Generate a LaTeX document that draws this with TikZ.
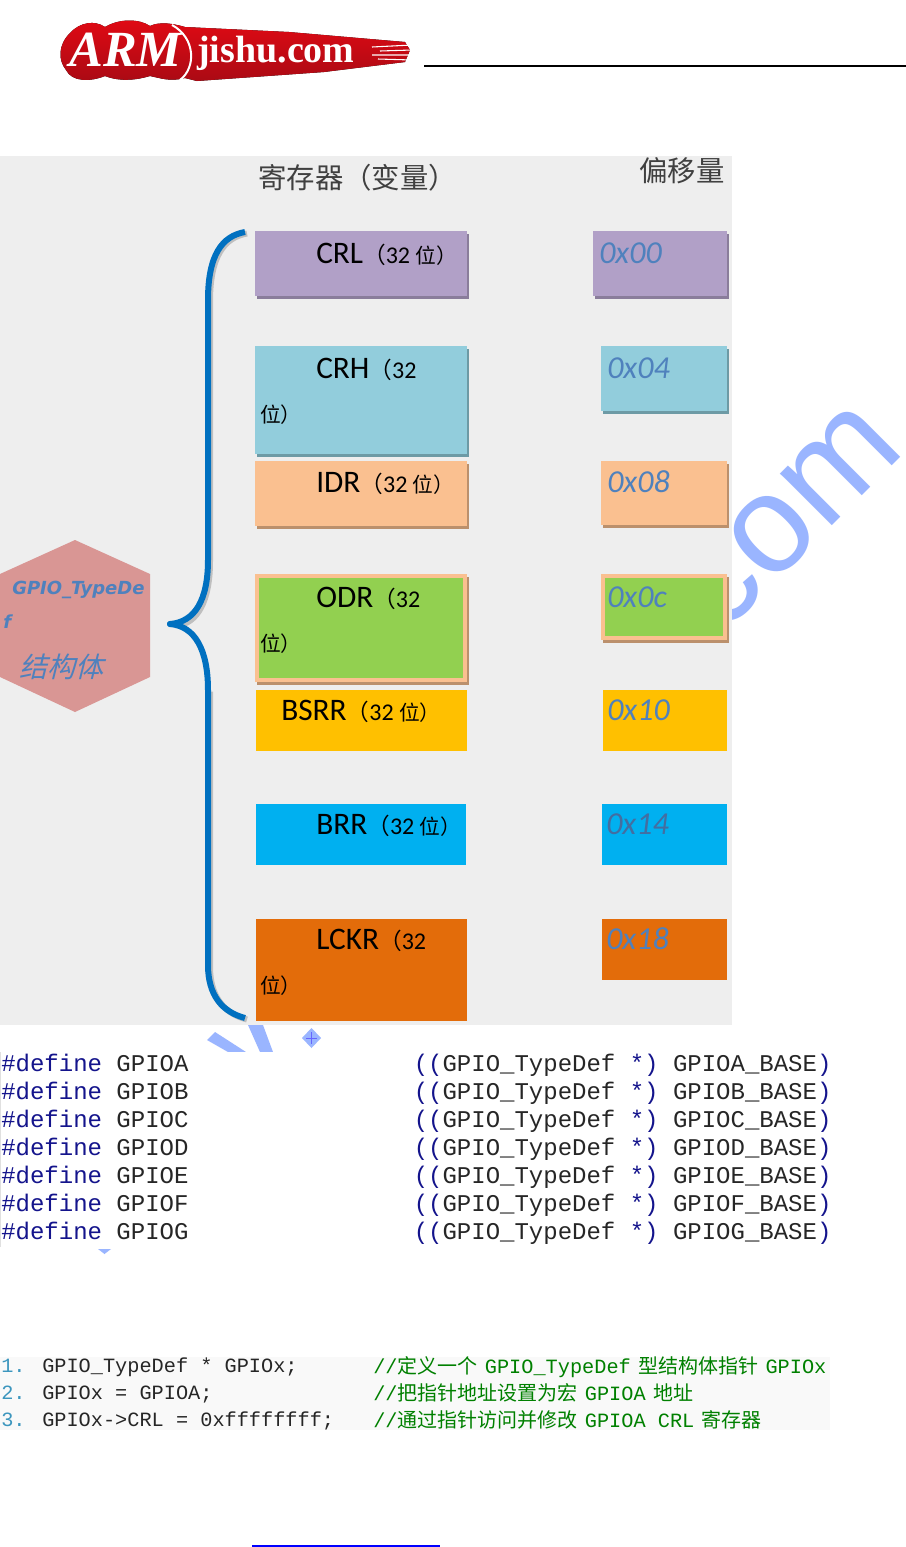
\documentclass[tikz,border=0pt]{standalone}
\usepackage{fontspec}
\usepackage{xcolor}
\setmainfont{Carlito}
\setmonofont{Liberation Mono}
\newfontfamily\cjk{Noto Sans CJK SC}
\newfontfamily\cjkslant[FakeSlant=0.25]{Noto Sans CJK SC}
\newfontfamily\wmfont{Liberation Sans}
\newfontfamily\hexfont{DejaVu Sans}
\newfontfamily\logofont{Liberation Serif}
\definecolor{panelgrey}{RGB}{238, 238, 238}
\definecolor{crlpurple}{RGB}{177, 160, 199}
\definecolor{crhblue}{RGB}{146, 205, 220}
\definecolor{idrpeach}{RGB}{250, 192, 144}
\definecolor{odrgreen}{RGB}{146, 208, 80}
\definecolor{bsrryellow}{RGB}{255, 192, 0}
\definecolor{brrcyan}{RGB}{0, 176, 240}
\definecolor{lckrorange}{RGB}{227, 108, 10}
\definecolor{hexrose}{RGB}{217, 150, 148}
\definecolor{offsetblue}{RGB}{79, 129, 189}
\definecolor{braceblue}{RGB}{0, 112, 192}
\definecolor{markblue}{RGB}{154, 181, 255}
\definecolor{keywordblue}{RGB}{20, 20, 140}
\definecolor{numberteal}{RGB}{60, 150, 190}
\definecolor{commentgreen}{RGB}{0, 128, 0}
\definecolor{codegrey}{RGB}{249, 249, 249}
\definecolor{logored}{RGB}{225, 10, 20}
\definecolor{logodark}{RGB}{170, 10, 20}
\newcommand{\bits}[1]{{\fontsize{17}{20}\selectfont\cjk （}{\fontsize{18}{20}\selectfont #1}}
\newcommand{\wei}{{\fontsize{15.5}{20}\selectfont\cjk 位）}}
\newcommand{\zh}[1]{{\cjk\fontsize{15}{18}\selectfont #1}}
\newcommand{\gap}{\hspace{5.5pt}}
\usepackage{tikz}
\usetikzlibrary{positioning, calc, shadows}
\tikzset{
    regbox/.style={rectangle, anchor=north west, inner sep=0pt, outer sep=0pt},
    shadowed/.style={general shadow={fill=#1, shadow xshift=1.5pt, shadow yshift=-2.2pt}},
    framed/.style={fill=odrgreen, draw=idrpeach, line width=3pt, general shadow={fill=#1, draw=#1, line width=3pt, shadow xshift=1.5pt, shadow yshift=-2.2pt}},
    regname/.style={anchor=base west, inner sep=0pt, font=\fontsize{23.5}{28}\selectfont},
    sidetext/.style={anchor=base west, inner sep=0pt},
    offsettext/.style={anchor=base west, inner sep=0pt, text=offsetblue, font=\fontsize{24}{28}\selectfont\itshape},
    titletext/.style={anchor=base west, inner sep=0pt, text=black!75, font=\fontsize{21.3}{24}\selectfont\cjk},
    definetext/.style={anchor=base west, inner sep=0pt, font=\fontsize{18}{20}\selectfont\ttfamily, text=black!85},
    codetext/.style={anchor=base west, inner sep=0pt, font=\fontsize{15.2}{18}\selectfont\ttfamily, text=black!85},
    commenttext/.style={anchor=base west, inner sep=0pt, font=\fontsize{15.2}{18}\selectfont\ttfamily, text=commentgreen},
}
\begin{document}
\begin{tikzpicture}[x=0.75pt, y=-0.75pt]
    \useasboundingbox (0,0) rectangle (906,1547);
    \fill[white] (0,0) rectangle (906,1547);

    \node[anchor=base east, inner sep=0pt, rotate=45, text=markblue, font=\fontsize{104}{110}\selectfont\wmfont] (markcom) at (907,451) {com};
    \fill[markblue] (215,1032) -- (207,1040) -- (228,1052) -- (246,1052) -- cycle;
    \fill[markblue] (248,1025) -- (263,1025) -- (273,1052) -- (260,1052) -- cycle;

    \fill[top color=logored, bottom color=logodark] (70,33) .. controls (80,22) and (95,20) .. (105,27) .. controls (120,18) and (140,19) .. (150,26) .. controls (160,21) and (175,24) .. (185,27) -- (289,32) -- (370,39) -- (405,42) -- (410,50) -- (405,62) -- (324,72) -- (197,81) -- (185,78) .. controls (170,82) and (160,78) .. (150,76) .. controls (130,82) and (115,80) .. (105,76) .. controls (90,82) and (72,82) .. (66,70) .. controls (58,60) and (58,45) .. (70,33) -- cycle;
    \draw[white, line width=0.8pt] (372,47) -- (412,45) (380,51) -- (412,50) (372,55) -- (412,55) (378,59) -- (412,60);
    \draw[white, line width=1.5pt] (172,25) .. controls (196,38) and (196,68) .. (180,80);
    \node[anchor=base west, inner sep=0pt, text=white, font=\fontsize{38}{40}\selectfont\logofont\bfseries\itshape] (logoarm) at (69,66) {ARM};
    \node[anchor=base west, inner sep=0pt, text=white, font=\fontsize{28.5}{30}\selectfont\logofont\bfseries] (logosite) at (197,62) {jishu.com};
    \coordinate (rulestart) at (424,66);
    \coordinate (ruleend) at (906,66);
    \draw[black, line width=1.5pt] (rulestart) -- (ruleend);

    \fill[panelgrey] (0,156) rectangle (732,1025);
    \node[titletext] (regtitle) at (258,188) {寄存器（变量）};
    \node[titletext] (offtitle) at (639,181) {偏移量};

    \node[regbox, fill=crlpurple, shadowed=black!22!crlpurple, minimum width=159pt, minimum height=48.75pt] (crl) at (255,231) {};
    \node[regbox, fill=crhblue, shadowed=black!25!crhblue, minimum width=159pt, minimum height=81pt] (crh) at (255,346) {};
    \node[regbox, fill=idrpeach, shadowed=black!25!idrpeach, minimum width=159pt, minimum height=48.75pt] (idr) at (255,461) {};
    \node[regbox, framed=black!25!idrpeach, minimum width=156pt, minimum height=78pt] (odr) at (257,576) {};
    \node[regbox, fill=bsrryellow, minimum width=158pt, minimum height=45.75pt] (bsrr) at (256,690) {};
    \node[regbox, fill=brrcyan, minimum width=157.5pt, minimum height=45.75pt] (brr) at (256,804) {};
    \node[regbox, fill=lckrorange, minimum width=158.25pt, minimum height=76.5pt] (lckr) at (256,919) {};

    \node[regbox, fill=crlpurple, shadowed=black!22!crlpurple, minimum width=100.5pt, minimum height=48.75pt] (off00) at (593,231) {};
    \node[regbox, fill=crhblue, shadowed=black!25!crhblue, minimum width=94.5pt, minimum height=48.75pt] (off04) at (601,346) {};
    \node[regbox, fill=idrpeach, shadowed=black!25!idrpeach, minimum width=94.5pt, minimum height=48pt] (off08) at (601,461) {};
    \node[regbox, framed=black!25!idrpeach, minimum width=91.5pt, minimum height=46.5pt] (off0c) at (603,576) {};
    \node[regbox, fill=bsrryellow, minimum width=93pt, minimum height=45.75pt] (off10) at (603,690) {};
    \node[regbox, fill=brrcyan, minimum width=93.75pt, minimum height=45.75pt] (off14) at (602,804) {};
    \node[regbox, fill=lckrorange, minimum width=93.75pt, minimum height=45.75pt] (off18) at (602,919) {};

    \node[regname] (crltext) at (316,263) {CRL\bits{32 \wei}};
    \node[regname] (crhtext) at (316,378) {CRH\bits{32}};
    \node[sidetext] (crhtail) at (260,422) {\wei};
    \node[regname] (idrtext) at (316,492) {IDR\bits{32 \wei}};
    \node[regname] (odrtext) at (316,607) {ODR\bits{32}};
    \node[sidetext] (odrtail) at (260,651) {\wei};
    \node[regname] (bsrrtext) at (281,720) {BSRR\bits{32 \wei}};
    \node[regname] (brrtext) at (316,834) {BRR\bits{32 \wei}};
    \node[regname] (lckrtext) at (316,949) {LCKR\bits{32}};
    \node[sidetext] (lckrtail) at (260,993) {\wei};

    \node[offsettext] (txt00) at (599,263) {0x00};
    \node[offsettext] (txt04) at (607,378) {0x04};
    \node[offsettext] (txt08) at (607,492) {0x08};
    \node[offsettext] (txt0c) at (607,607) {0x0c};
    \node[offsettext] (txt10) at (607,720) {0x10};
    \node[offsettext, text=offsetblue!85!black] (txt14) at (606,834) {0x14};
    \node[offsettext] (txt18) at (606,949) {0x18};

    \fill[hexrose] (75,540) -- (150,574) -- (150,677) -- (75,712) -- (0,677) -- (0,574) -- cycle;
    \node[anchor=base west, inner sep=0pt, text=offsetblue, font=\fontsize{13.5}{16}\selectfont\hexfont\bfseries\itshape] (hexname) at (12,594) {GPIO\_TypeDe};
    \node[anchor=base west, inner sep=0pt, text=offsetblue, font=\fontsize{13.5}{16}\selectfont\hexfont\bfseries\itshape] (hextail) at (3,628) {f};
    \node[anchor=base west, inner sep=0pt, text=offsetblue, font=\fontsize{21}{24}\selectfont\cjkslant] (hexword) at (19,677) {结构体};

    \coordinate (bracetop) at (245,232);
    \coordinate (bracetip) at (170,624);
    \coordinate (bracebottom) at (245,1018);
    \draw[black!25, line width=4.5pt, shift={(2,1.5)}] (245,232) .. controls (222,236) and (208,255) .. (208,300) -- (208,560) .. controls (208,600) and (195,622) .. (175,624);
    \draw[black!25, line width=4.5pt, shift={(2,1.5)}] (208,690) -- (208,965) .. controls (208,995) and (222,1012) .. (245,1018);
    \draw[braceblue, line width=4.5pt, line join=round] (bracetop) .. controls (222,236) and (208,255) .. (208,300) -- (208,560) .. controls (208,600) and (195,622) .. (bracetip) .. controls (195,626) and (208,650) .. (208,690) -- (208,965) .. controls (208,995) and (222,1012) .. (bracebottom);
    \fill[braceblue] (bracetip) circle (3);

    \fill[white] (0,1052) rectangle (835,1247);
    \draw[black!12] (0.5,1052) -- (0.5,1247);
    \foreach \row/\letter in {0/A, 1/B, 2/C, 3/D, 4/E, 5/F, 6/G} {
        \node[definetext] (def\letter) at (1,1071+28*\row) {\textcolor{keywordblue}{\#define} GPIO\letter};
        \node[definetext] (cast\letter) at (413.5,1071+28*\row) {\textcolor{keywordblue}{((}GPIO\_TypeDef \textcolor{keywordblue}{*)} GPIO\letter\_BASE\textcolor{keywordblue}{)}};
    }
    \fill[markblue] (302,1038) -- (311.5,1028) -- (321,1038) -- (311.5,1048) -- cycle;
    \draw[blue!60, line width=0.4pt] (306,1038) -- (317,1038) (311.5,1032) -- (311.5,1044);
    \fill[markblue] (98,1249) -- (111,1249) -- (104.5,1254) -- cycle;

    \fill[codegrey] (0,1357) rectangle (830,1430);
    \node[codetext, text=numberteal] (num1) at (1,1372) {1.};
    \node[codetext, text=numberteal] (num2) at (1,1399) {2.};
    \node[codetext, text=numberteal] (num3) at (1,1426) {3.};
    \node[codetext] (line1) at (42,1372) {GPIO\_TypeDef * GPIOx;};
    \node[codetext] (line2) at (42,1399) {GPIOx = GPIOA;};
    \node[codetext] (line3) at (42,1426) {GPIOx->CRL = 0xffffffff;};
    \node[commenttext] (note1) at (373,1373) {//\zh{定义一个}\gap GPIO\_TypeDef\gap\zh{型结构体指针}\gap GPIOx};
    \node[commenttext] (note2) at (373,1400) {//\zh{把指针地址设置为宏}\gap GPIOA\gap\zh{地址}};
    \node[commenttext] (note3) at (373,1427) {//\zh{通过指针访问并修改}\gap GPIOA CRL\gap\zh{寄存器}};

    \coordinate (linkstart) at (252,1546);
    \coordinate (linkend) at (440,1546);
    \draw[blue, line width=0.9pt] (linkstart) -- (linkend);
\end{tikzpicture}
\end{document}
